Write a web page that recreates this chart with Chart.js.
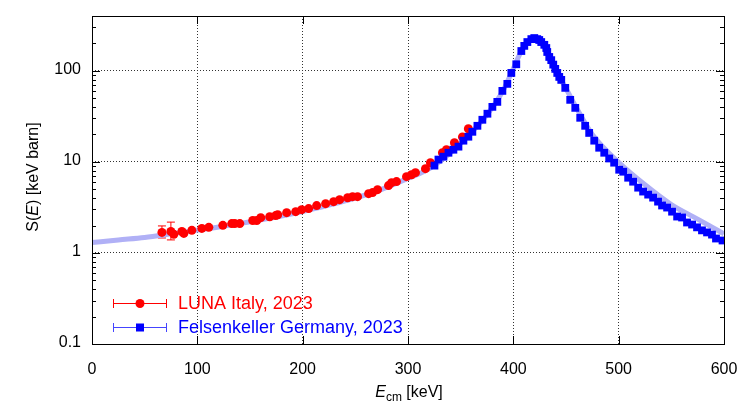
<!DOCTYPE html>
<html>
<head>
<meta charset="utf-8">
<title>S-factor</title>
<script src="https://cdn.jsdelivr.net/npm/chart.js"></script>
<style>
    html, body { margin: 0; padding: 0; background: #ffffff; }
    #wrap { width: 743px; height: 406px; }
</style>
</head>
<body>
<div id="wrap"><canvas id="chart" width="743" height="406"></canvas></div>
<script>
    // LUNA Italy, 2023 (red circles)
    var lunaE = [66.4, 74.9, 77.7, 85.3, 87.2, 94.8, 104.3, 110.9, 124.2, 132.7, 135.5, 140.3, 152.6, 156.4,
                 160.2, 168.7, 174.4, 176.3, 184.8, 193.4, 199.1, 205.7, 213.3, 221.8, 229.4, 235.1, 242.7,
                 247.4, 252.1, 262.6, 266.4, 271.1, 281.5, 284.4, 289.1, 298.6, 303.3, 307.1, 316.6, 321.3,
                 332.7, 336.5, 344.1, 351.7, 357.3];
    var lunaS = [1.68, 1.72, 1.60, 1.72, 1.64, 1.77, 1.86, 1.91, 2.01, 2.10, 2.10, 2.10, 2.27, 2.27,
                 2.44, 2.50, 2.57, 2.63, 2.77, 2.84, 2.99, 3.07, 3.31, 3.48, 3.66, 3.85, 4.04,
                 4.15, 4.15, 4.48, 4.60, 4.95, 5.49, 5.91, 6.07, 6.88, 7.23, 7.61, 8.42, 9.80,
                 12.6, 13.6, 16.2, 18.8, 23.1];
    // error bars shown for the two lowest-energy points
    var lunaErrLow = [1.46, 1.39];
    var lunaErrHigh = [1.98, 2.18];

    // Felsenkeller Germany, 2023 (blue squares)
    var fkE = [325.1, 328.9, 333.6, 338.4, 343.1, 347.9, 352.6, 357.3, 361.1, 365.9, 370.6, 375.4, 380.1,
               384.8, 389.6, 394.3, 398.1, 402.8, 407.6, 410.4, 413.3, 417.1, 419.9, 422.7, 424.6, 426.5,
               429.4, 431.3, 432.2, 434.1, 436.0, 437.9, 439.8, 441.7, 443.6, 445.5, 449.3, 454.0, 458.8,
               463.5, 468.2, 472.0, 476.8, 481.5, 486.3, 491.0, 495.7, 500.5, 504.3, 509.0, 513.7, 518.5,
               523.2, 528.0, 532.7, 537.4, 541.2, 546.0, 550.7, 555.5, 560.2, 564.9, 569.7, 574.4, 579.1,
               583.9, 588.6, 592.4, 598.6];
    var fkS = [9.1, 10.6, 11.4, 12.6, 13.6, 14.7, 17.1, 18.9, 21.4, 24.9, 29.0, 33.8, 40.2,
               45.6, 60.2, 71.9, 94.8, 118, 165, 188, 207, 223, 229, 223, 218, 207,
               193, 178, 161, 142, 131, 117, 105, 94.8, 85.7, 79.5, 65.0, 48.0, 39.2,
               30.5, 24.9, 20.8, 17.1, 14.3, 12.6, 10.9, 9.8, 8.2, 7.8, 6.7, 6.06, 5.21,
               4.72, 4.37, 4.05, 3.66, 3.32, 3.15, 2.84, 2.51, 2.45, 2.16, 2.05, 1.91, 1.77,
               1.68, 1.59, 1.44, 1.37];

    // broad resonance fit (light blue band)
    var fitE = [0, 25, 50, 75, 100, 125, 150, 175, 200, 225, 250, 275, 300, 320, 340, 360, 375, 390,
                400, 408, 414, 420, 426, 432, 440, 450, 460, 475, 500, 525, 550, 575, 600];
    var fitS = [1.30, 1.39, 1.48, 1.62, 1.78, 1.96, 2.20, 2.48, 2.85, 3.35, 4.0, 5.0, 6.6, 8.4, 12.5,
                21, 33, 60, 106, 168, 210, 226, 212, 165, 102, 64, 39, 20, 9.9, 5.6, 3.4, 2.35, 1.62];

    var xTicks = [0, 100, 200, 300, 400, 500, 600];
    var yTicks = [0.1, 1, 10, 100];
    var yTickLabels = ['0.1', '1', '10', '100'];

    var FONT = '"Liberation Sans", Arial, Helvetica, sans-serif';

    function pts(xs, ys) {
        return xs.map(function (x, i) { return { x: x, y: ys[i] }; });
    }

    var decorations = {
        id: 'decorations',
        beforeDatasetsDraw: function (chart) {
            // error bars on the first LUNA points
            var ctx = chart.ctx, xs = chart.scales.x, ys = chart.scales.y;
            ctx.save();
            ctx.strokeStyle = '#ff0000';
            ctx.lineWidth = 1;
            for (var i = 0; i < lunaErrLow.length; i++) {
                var px = xs.getPixelForValue(lunaE[i]);
                var lo = ys.getPixelForValue(lunaErrLow[i]);
                var hi = ys.getPixelForValue(lunaErrHigh[i]);
                ctx.beginPath();
                ctx.moveTo(px, lo); ctx.lineTo(px, hi);
                ctx.moveTo(px - 4, lo); ctx.lineTo(px + 4, lo);
                ctx.moveTo(px - 4, hi); ctx.lineTo(px + 4, hi);
                ctx.stroke();
            }
            ctx.restore();
        },
        afterDatasetsDraw: function (chart) {
            var ctx = chart.ctx, a = chart.chartArea;
            var xs = chart.scales.x, ys = chart.scales.y;
            ctx.save();
            ctx.strokeStyle = '#000000';
            ctx.lineWidth = 1;

            // frame
            ctx.strokeRect(Math.round(a.left) + 0.5, Math.round(a.top) + 0.5,
                           Math.round(a.right - a.left), Math.round(a.bottom - a.top));

            // ticks, drawn inward on all four sides
            ctx.beginPath();
            xTicks.forEach(function (v) {
                var px = Math.round(xs.getPixelForValue(v)) + 0.5;
                ctx.moveTo(px, a.bottom); ctx.lineTo(px, a.bottom - 8);
                ctx.moveTo(px, a.top); ctx.lineTo(px, a.top + 8);
            });
            yTicks.forEach(function (d) {
                for (var k = 1; k <= 9; k++) {
                    var v = d * k;
                    if (v > 400) break;
                    var len = (k === 1) ? 8 : 4;
                    var py = Math.round(ys.getPixelForValue(v)) + 0.5;
                    ctx.moveTo(a.left, py); ctx.lineTo(a.left + len, py);
                    ctx.moveTo(a.right, py); ctx.lineTo(a.right - len, py);
                }
            });
            ctx.stroke();

            // tick labels
            ctx.fillStyle = '#000000';
            ctx.font = '16px ' + FONT;
            ctx.textAlign = 'center';
            ctx.textBaseline = 'middle';
            xTicks.forEach(function (v) {
                ctx.fillText(String(v), xs.getPixelForValue(v), a.bottom + 26);
            });
            ctx.textAlign = 'right';
            yTicks.forEach(function (v, i) {
                ctx.fillText(yTickLabels[i], a.left - 11, ys.getPixelForValue(v) - 1);
            });

            // x title: E_cm [keV]
            ctx.textAlign = 'left';
            ctx.textBaseline = 'alphabetic';
            var fIt = 'italic 16px ' + FONT, fN = '16px ' + FONT, fSub = '12px ' + FONT;
            ctx.font = fIt; var w1 = ctx.measureText('E').width;
            ctx.font = fSub; var w2 = ctx.measureText('cm').width;
            ctx.font = fN; var w3 = ctx.measureText(' [keV]').width;
            var cx = (a.left + a.right) / 2 + 1, by = 397;
            var x0 = cx - (w1 + w2 + w3) / 2;
            ctx.font = fIt; ctx.fillText('E', x0, by);
            ctx.font = fSub; ctx.fillText('cm', x0 + w1, by + 4);
            ctx.font = fN; ctx.fillText(' [keV]', x0 + w1 + w2, by);

            // y title: S(E) [keV barn]
            ctx.save();
            ctx.translate(34, (a.top + a.bottom) / 2 - 3);
            ctx.rotate(-Math.PI / 2);
            ctx.textBaseline = 'middle';
            ctx.font = fN; var s1 = ctx.measureText('S(').width;
            ctx.font = fIt; var s2 = ctx.measureText('E').width;
            ctx.font = fN; var s3 = ctx.measureText(') [keV barn]').width;
            var y0 = -(s1 + s2 + s3) / 2;
            ctx.font = fN; ctx.fillText('S(', y0, 0);
            ctx.font = fIt; ctx.fillText('E', y0 + s1, 0);
            ctx.font = fN; ctx.fillText(') [keV barn]', y0 + s1 + s2, 0);
            ctx.restore();

            // legend
            var rows = [
                { text: 'LUNA Italy, 2023', color: '#ff0000', line: '#ff0000', y: 303, shape: 'circle' },
                { text: 'Felsenkeller Germany, 2023', color: '#0000ff', line: '#4444ff', y: 327, shape: 'square' }
            ];
            rows.forEach(function (r) {
                ctx.strokeStyle = r.line;
                ctx.lineWidth = 1;
                ctx.beginPath();
                ctx.moveTo(113, r.y + 0.5); ctx.lineTo(167, r.y + 0.5);
                ctx.moveTo(113.5, r.y - 4); ctx.lineTo(113.5, r.y + 5);
                ctx.moveTo(166.5, r.y - 4); ctx.lineTo(166.5, r.y + 5);
                ctx.stroke();
                ctx.fillStyle = r.color;
                if (r.shape === 'circle') {
                    ctx.beginPath();
                    ctx.arc(140, r.y + 0.5, 4.5, 0, Math.PI * 2);
                    ctx.fill();
                } else {
                    ctx.fillRect(136, r.y - 3.5, 8, 8);
                }
                ctx.font = '18px ' + FONT;
                ctx.textAlign = 'left';
                ctx.textBaseline = 'middle';
                ctx.fillText(r.text, 178, r.y + 1);
            });
            ctx.restore();
        }
    };

    var ctx = document.getElementById('chart').getContext('2d');
    var chart = new Chart(ctx, {
        type: 'scatter',
        data: {
            datasets: [
                {
                    label: 'Felsenkeller Germany, 2023',
                    data: pts(fkE, fkS),
                    pointStyle: 'rect',
                    pointRadius: 5.5,
                    pointBackgroundColor: '#0000ff',
                    pointBorderWidth: 0,
                    showLine: false,
                    order: 1
                },
                {
                    label: 'LUNA Italy, 2023',
                    data: pts(lunaE, lunaS),
                    pointStyle: 'circle',
                    pointRadius: 4.5,
                    pointBackgroundColor: '#ff0000',
                    pointBorderWidth: 0,
                    showLine: false,
                    order: 2
                },
                {
                    label: 'fit',
                    data: pts(fitE, fitS),
                    showLine: true,
                    borderColor: '#b0b0f6',
                    borderWidth: 5,
                    pointRadius: 0,
                    cubicInterpolationMode: 'monotone',
                    order: 3
                }
            ]
        },
        options: {
            responsive: false,
            animation: false,
            devicePixelRatio: 1,
            layout: { padding: { left: 0, right: 19, top: 16, bottom: 0 } },
            plugins: {
                legend: { display: false },
                tooltip: { enabled: false }
            },
            scales: {
                x: {
                    type: 'linear',
                    min: 0,
                    max: 600,
                    ticks: { display: false, stepSize: 100 },
                    grid: { color: '#333333', lineWidth: 1, drawTicks: false },
                    border: { display: false, dash: [1, 2] },
                    afterFit: function (s) { s.height = 62; }
                },
                y: {
                    type: 'logarithmic',
                    min: 0.1,
                    max: 400,
                    afterBuildTicks: function (s) {
                        s.ticks = yTicks.map(function (v) { return { value: v }; });
                    },
                    ticks: { display: false },
                    grid: { color: '#333333', lineWidth: 1, drawTicks: false },
                    border: { display: false, dash: [1, 2] },
                    afterFit: function (s) { s.width = 92; }
                }
            }
        },
        plugins: [decorations]
    });
</script>
</body>
</html>
